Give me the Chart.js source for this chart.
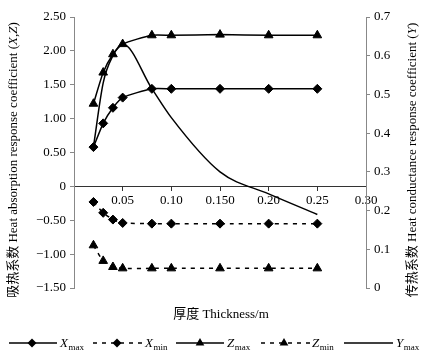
<!DOCTYPE html>
<html><head><meta charset="utf-8">
<script src="https://cdn.jsdelivr.net/npm/chart.js@4/dist/chart.umd.min.js"></script>
<style>html,body{margin:0;padding:0;background:#fff}#wrap{width:437px;height:352px}</style>
</head><body><div id="wrap"><canvas id="c" width="437" height="352"></canvas></div>
<script>
// ---- data ----
const thickness = [0.02, 0.03, 0.04, 0.05, 0.08, 0.10, 0.15, 0.20, 0.25];
const xMax = [0.58, 0.93, 1.16, 1.31, 1.44, 1.44, 1.44, 1.44, 1.44];
const xMin = [-0.23, -0.39, -0.49, -0.54, -0.55, -0.55, -0.55, -0.55, -0.55];
const zMax = [1.22, 1.68, 1.95, 2.10, 2.23, 2.23, 2.24, 2.23, 2.23];
const zMin = [-0.87, -1.10, -1.19, -1.21, -1.21, -1.21, -1.21, -1.21, -1.21];
const yMax = [0.365, 0.53, 0.60, 0.63, 0.515, 0.44, 0.30, 0.243, 0.19];
const xTickLabels = ['', '0.05', '0.10', '0.150', '0.20', '0.25', '0.30'];
const leftTickLabels = ['\u22121.50', '\u22121.00', '\u22120.50', '0', '0.50', '1.00', '1.50', '2.00', '2.50'];
const rightTickLabels = ['0', '0.1', '0.2', '0.3', '0.4', '0.5', '0.6', '0.7'];
const xTitle = '厚度 Thickness/m';
const leftTitle = [['吸热系数 Heat absorption response coefficient (', false], ['X', true], [',', false], ['Z', true], [')', false]];
const rightTitle = [['传热系数 Heat conductance response coefficient (', false], ['Y', true], [')', false]];
const legendItems = [
  {letter: 'X', sub: 'max', dash: [], marker: 'diamond'},
  {letter: 'X', sub: 'min', dash: [4, 5], marker: 'diamond'},
  {letter: 'Z', sub: 'max', dash: [], marker: 'triangle'},
  {letter: 'Z', sub: 'min', dash: [4, 5], marker: 'triangle'},
  {letter: 'Y', sub: 'max', dash: [], marker: null}
];

const SERIF = "'Liberation Serif','Noto Sans CJK SC',serif";
const pts = arr => thickness.map((t, i) => ({x: t, y: arr[i]}));

function ds(data, opt) {
  return Object.assign({
    data: data, borderColor: '#000', backgroundColor: '#000', borderWidth: 1.5,
    pointBorderColor: '#000', pointBackgroundColor: '#000', pointBorderWidth: 1,
    tension: 0.2, yAxisID: 'y', fill: false
  }, opt);
}

function drawMarker(ctx, type, x, y) {
  ctx.save(); ctx.setLineDash([]); ctx.fillStyle = '#000'; ctx.beginPath();
  if (type === 'diamond') {
    const r = 4.5;
    ctx.moveTo(x, y - r); ctx.lineTo(x + r, y); ctx.lineTo(x, y + r); ctx.lineTo(x - r, y);
  } else {
    const r = 5;
    ctx.moveTo(x, y - r); ctx.lineTo(x + r * 0.866, y + r / 2); ctx.lineTo(x - r * 0.866, y + r / 2);
  }
  ctx.closePath(); ctx.fill(); ctx.restore();
}

function drawRotTitle(ctx, segs, cx, cy, size) {
  ctx.save();
  ctx.translate(cx, cy); ctx.rotate(-Math.PI / 2);
  let total = 0;
  segs.forEach(s => { ctx.font = (s[1] ? 'italic ' : '') + size + 'px ' + SERIF; total += ctx.measureText(s[0]).width; });
  let x = -total / 2;
  ctx.textBaseline = 'middle'; ctx.textAlign = 'left'; ctx.fillStyle = '#000';
  segs.forEach(s => { ctx.font = (s[1] ? 'italic ' : '') + size + 'px ' + SERIF; ctx.fillText(s[0], x, 0); x += ctx.measureText(s[0]).width; });
  ctx.restore();
}

const decor = {
  id: 'decor',
  afterDraw(chart) {
    const ctx = chart.ctx;
    drawRotTitle(ctx, leftTitle, 14, 160, 13);
    drawRotTitle(ctx, rightTitle, 413, 160, 13);
    // x title
    ctx.save();
    ctx.font = '13px ' + SERIF; ctx.fillStyle = '#000'; ctx.textAlign = 'center'; ctx.textBaseline = 'middle';
    ctx.fillText(xTitle, 221, 315);
    ctx.restore();
    // legend
    const ly = 343;
    const layout = [[9, 57, 32, 60], [93, 143, 117, 145], [176, 224, 200, 227], [261, 310, 284, 312], [344, 393, null, 396]];
    legendItems.forEach((it, i) => {
      const [x1, x2, mx, tx] = layout[i];
      ctx.save();
      ctx.strokeStyle = '#000'; ctx.lineWidth = 1.5; ctx.setLineDash(it.dash);
      ctx.beginPath(); ctx.moveTo(x1, ly); ctx.lineTo(x2, ly); ctx.stroke();
      ctx.restore();
      if (it.marker) drawMarker(ctx, it.marker, mx, ly);
      ctx.save();
      ctx.fillStyle = '#000'; ctx.textBaseline = 'alphabetic'; ctx.textAlign = 'left';
      ctx.font = 'italic 13px ' + SERIF;
      ctx.fillText(it.letter, tx, ly + 4);
      const w = ctx.measureText(it.letter).width;
      ctx.font = '9px ' + SERIF;
      ctx.fillText(it.sub, tx + w + 0.5, ly + 7);
      ctx.restore();
    });
  }
};

new Chart(document.getElementById('c'), {
  type: 'line',
  data: {
    datasets: [
      ds(pts(xMax), {label: 'Xmax', pointStyle: 'rectRot', pointRadius: 4.5}),
      ds(pts(xMin), {label: 'Xmin', pointStyle: 'rectRot', pointRadius: 4.5, borderDash: [4, 5]}),
      ds(pts(zMax), {label: 'Zmax', pointStyle: 'triangle', pointRadius: 5}),
      ds(pts(zMin), {label: 'Zmin', pointStyle: 'triangle', pointRadius: 5, borderDash: [4, 5]}),
      ds(pts(yMax), {label: 'Ymax', pointRadius: 0, yAxisID: 'y1', cubicInterpolationMode: 'monotone'})
    ]
  },
  options: {
    responsive: false, animation: false, devicePixelRatio: 1,
    layout: {padding: {top: 17, bottom: 64, left: 0, right: 0}},
    plugins: {legend: {display: false}, tooltip: {enabled: false}, title: {display: false}},
    scales: {
      x: {
        type: 'linear', axis: 'x', position: {y: 0}, min: 0, max: 0.3,
        ticks: {stepSize: 0.05, autoSkip: false, maxRotation: 0, padding: 2, color: '#000',
          font: {family: SERIF, size: 13}, callback: (v, i) => xTickLabels[i]},
        grid: {drawOnChartArea: false, drawTicks: true, tickLength: 4, color: '#333'},
        border: {color: '#333', width: 1}
      },
      y: {
        type: 'linear', position: 'left', min: -1.5, max: 2.5,
        ticks: {stepSize: 0.5, padding: 4, color: '#000', font: {family: SERIF, size: 13},
          callback: (v, i) => leftTickLabels[i]},
        grid: {drawOnChartArea: false, drawTicks: true, tickLength: 4, color: '#888'},
        border: {color: '#888', width: 1},
        afterFit: s => { s.width = 74; }
      },
      y1: {
        type: 'linear', position: 'right', min: 0, max: 0.7,
        ticks: {stepSize: 0.1, padding: 4, color: '#000', font: {family: SERIF, size: 13},
          callback: (v, i) => rightTickLabels[i]},
        grid: {drawOnChartArea: false, drawTicks: true, tickLength: 4, color: '#888'},
        border: {color: '#888', width: 1},
        afterFit: s => { s.width = 71; }
      }
    }
  },
  plugins: [decor]
});
</script>
</body></html>
